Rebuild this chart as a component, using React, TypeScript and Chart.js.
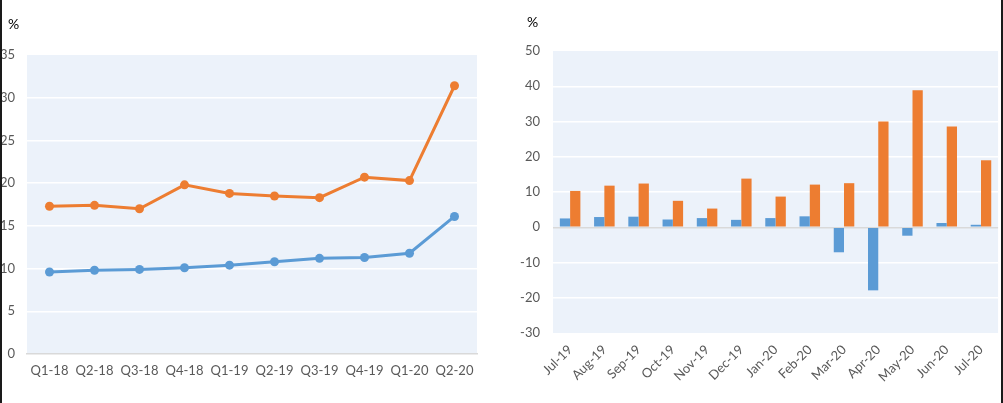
import React, { useEffect, useRef } from 'react';
import { Chart, registerables } from 'chart.js';

Chart.register(...registerables);

const quarters = ['Q1-18', 'Q2-18', 'Q3-18', 'Q4-18', 'Q1-19', 'Q2-19', 'Q3-19', 'Q4-19', 'Q1-20', 'Q2-20'];
const quarterlyOrange = [17.3, 17.4, 17.0, 19.8, 18.8, 18.5, 18.3, 20.7, 20.3, 31.4];
const quarterlyBlue = [9.6, 9.8, 9.9, 10.1, 10.4, 10.8, 11.2, 11.3, 11.8, 16.1];

const months = ['Jul-19', 'Aug-19', 'Sep-19', 'Oct-19', 'Nov-19', 'Dec-19', 'Jan-20', 'Feb-20', 'Mar-20', 'Apr-20', 'May-20', 'Jun-20', 'Jul-20'];
const monthlyBlue = [2.5, 2.9, 3.0, 2.2, 2.6, 2.1, 2.6, 3.1, -7.1, -17.9, -2.4, 1.2, 0.7];
const monthlyOrange = [10.3, 11.8, 12.4, 7.5, 5.3, 13.8, 8.7, 12.1, 12.5, 30.0, 38.9, 28.6, 19.0];

const leftAxis = { min: 0, max: 35, step: 5 };
const rightAxis = { min: -30, max: 50, step: 10 };

const BLUE = '#5B9BD5';
const ORANGE = '#ED7D31';
const PLOT_BG = '#ECF2FA';
const TICK_COLOR = '#595959';
const FONT = 'Lato';

const plotBg = {
  id: 'plotBg',
  beforeDraw(chart: any) {
    const { ctx, chartArea } = chart;
    if (!chartArea) return;
    ctx.save();
    ctx.fillStyle = PLOT_BG;
    ctx.fillRect(chartArea.left, chartArea.top, chartArea.right - chartArea.left, chartArea.bottom - chartArea.top);
    ctx.restore();
  },
};

function LeftChart() {
  const ref = useRef<HTMLCanvasElement>(null);
  useEffect(() => {
    if (!ref.current) return;
    const chart = new Chart(ref.current, {
      type: 'line',
      data: {
        labels: quarters,
        datasets: [
          {
            data: quarterlyOrange,
            borderColor: ORANGE,
            backgroundColor: ORANGE,
            borderWidth: 3,
            pointRadius: 4.5,
            pointBorderWidth: 0,
            tension: 0,
          },
          {
            data: quarterlyBlue,
            borderColor: BLUE,
            backgroundColor: BLUE,
            borderWidth: 3,
            pointRadius: 4.5,
            pointBorderWidth: 0,
            tension: 0,
          },
        ],
      },
      options: {
        responsive: false,
        animation: false,
        layout: { padding: { top: 55, right: 13, left: 0, bottom: 0 } },
        plugins: { legend: { display: false }, tooltip: { enabled: false } },
        scales: {
          x: {
            offset: true,
            grid: { display: false, drawTicks: false },
            border: { display: true, color: '#D9D9D9', width: 1.5 },
            ticks: { color: TICK_COLOR, font: { family: FONT, size: 13 }, padding: 9, maxRotation: 0, autoSkip: false },
            afterFit(scale: any) { scale.height = 49; },
          },
          y: {
            min: leftAxis.min,
            max: leftAxis.max,
            ticks: { stepSize: leftAxis.step, color: TICK_COLOR, font: { family: FONT, size: 13 }, padding: 12 },
            grid: {
              drawTicks: false,
              lineWidth: 1.5,
              color: (c: any) => (c.tick && (c.tick.value === leftAxis.max || c.tick.value === leftAxis.min) ? 'rgba(0,0,0,0)' : '#FFFFFF'),
            },
            border: { display: false },
            afterFit(scale: any) { scale.width = 27; },
          },
        },
      },
      plugins: [plotBg],
    });
    return () => chart.destroy();
  }, []);
  return <canvas ref={ref} width={490} height={403} style={{ position: 'absolute', left: 0, top: 0 }} />;
}

function RightChart() {
  const ref = useRef<HTMLCanvasElement>(null);
  useEffect(() => {
    if (!ref.current) return;
    const chart = new Chart(ref.current, {
      type: 'bar',
      data: {
        labels: months,
        datasets: [
          {
            data: monthlyBlue,
            backgroundColor: BLUE,
            borderWidth: 0,
            categoryPercentage: 0.6,
            barPercentage: 1,
          },
          {
            data: monthlyOrange,
            backgroundColor: ORANGE,
            borderWidth: 0,
            categoryPercentage: 0.6,
            barPercentage: 1,
          },
        ],
      },
      options: {
        responsive: false,
        animation: false,
        layout: { padding: { top: 51, right: 0, left: 0, bottom: 0 } },
        plugins: { legend: { display: false }, tooltip: { enabled: false } },
        scales: {
          x: {
            grid: { display: false, drawTicks: false },
            border: { display: false },
            ticks: { color: TICK_COLOR, font: { family: FONT, size: 13 }, padding: 9, minRotation: 45, maxRotation: 45, autoSkip: false },
            afterFit(scale: any) { scale.height = 70; },
          },
          y: {
            min: rightAxis.min,
            max: rightAxis.max,
            ticks: { stepSize: rightAxis.step, color: TICK_COLOR, font: { family: FONT, size: 13 }, padding: 13 },
            grid: {
              drawTicks: false,
              lineWidth: 1.5,
              color: (c: any) => {
                const v = c.tick ? c.tick.value : null;
                if (v === 0) return '#D9D9D9';
                if (v === rightAxis.max || v === rightAxis.min) return 'rgba(0,0,0,0)';
                return '#FFFFFF';
              },
            },
            border: { display: false },
            afterFit(scale: any) { scale.width = 63; },
          },
        },
      },
      plugins: [plotBg],
    });
    return () => chart.destroy();
  }, []);
  return <canvas ref={ref} width={511} height={403} style={{ position: 'absolute', left: 490, top: 0 }} />;
}

const pctStyle: React.CSSProperties = {
  position: 'absolute',
  fontFamily: FONT,
  fontSize: 14,
  lineHeight: '16px',
  color: '#000',
};

export default function App() {
  return (
    <div style={{ position: 'fixed', left: 0, top: 0, width: 1003, height: 403, background: '#fff', overflow: 'hidden' }}>
      <LeftChart />
      <RightChart />
      <span style={{ ...pctStyle, left: 8, top: 16 }}>%</span>
      <span style={{ ...pctStyle, left: 527, top: 14 }}>%</span>
      <div style={{ position: 'absolute', left: 0, top: 0, width: 2, height: 403, background: '#1a1a1a' }} />
      <div style={{ position: 'absolute', left: 1001, top: 0, width: 2, height: 403, background: '#1a1a1a' }} />
    </div>
  );
}
